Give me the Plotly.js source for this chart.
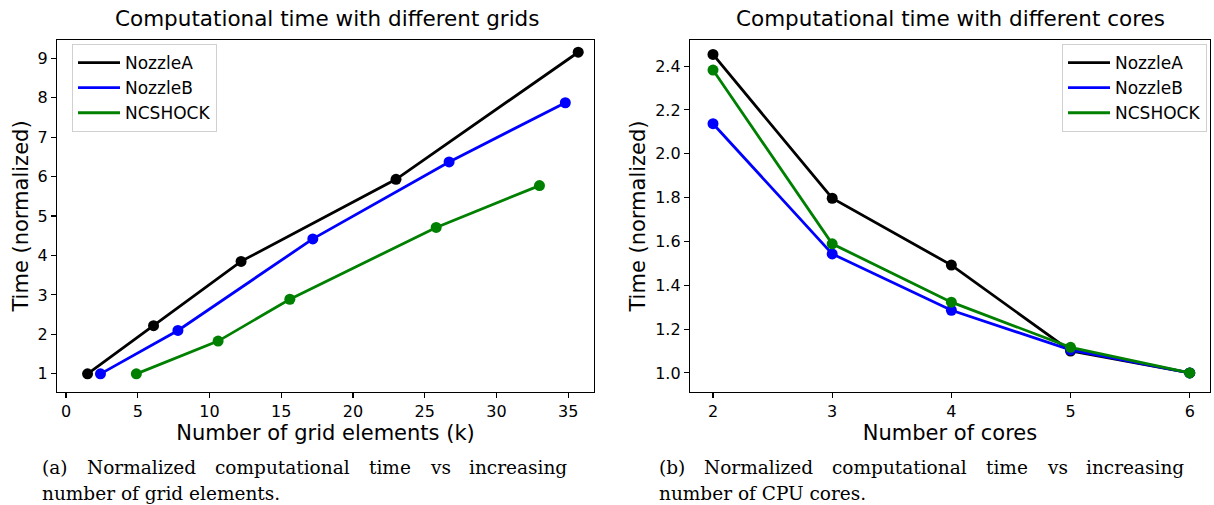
<!DOCTYPE html>
<html>
<head>
<meta charset="utf-8">
<script src="https://cdn.plot.ly/plotly-3.0.1.min.js"></script>
<style>html,body{margin:0;padding:0;background:#fff;}#chart{width:1214px;height:505px;}</style>
</head>
<body>
<div id="chart"></div>
<script>
// Left panel: grid elements (k) vs normalized time
const seriesNames = ["NozzleA", "NozzleB", "NCSHOCK"];
const seriesColors = ["#000000", "#0000ff", "#008000"];
const gridA_x = [1.5, 6.1, 12.2, 23.0, 35.7];
const gridA_y = [1.0, 2.22, 3.85, 5.93, 9.15];
const gridB_x = [2.4, 7.8, 17.2, 26.7, 34.8];
const gridB_y = [1.0, 2.10, 4.42, 6.37, 7.87];
const gridC_x = [4.9, 10.6, 15.6, 25.8, 33.0];
const gridC_y = [1.0, 1.83, 2.89, 4.71, 5.77];
// Right panel: number of cores vs normalized time
const cores = [2, 3, 4, 5, 6];
const coreA_y = [2.453, 1.797, 1.492, 1.100, 1.0];
const coreB_y = [2.137, 1.543, 1.286, 1.105, 1.0];
const coreC_y = [2.382, 1.589, 1.323, 1.117, 1.0];

const leftTitle = "Computational time with different grids";
const rightTitle = "Computational time with different cores";
const captionA1 = ["(a)", "Normalized", "computational", "time", "vs", "increasing"];
const captionA2 = "number of grid elements.";
const captionB1 = ["(b)", "Normalized", "computational", "time", "vs", "increasing"];
const captionB2 = "number of CPU cores.";

const font = "DejaVu Sans, sans-serif";
const serif = "DejaVu Serif, serif";
const capSize = 18.5;
const gridX = [gridA_x, gridB_x, gridC_x];
const gridY = [gridA_y, gridB_y, gridC_y];
const coreY = [coreA_y, coreB_y, coreC_y];

const traces = [];
for (let i = 0; i < 3; i++) {
  traces.push({x: gridX[i], y: gridY[i], mode: "lines", name: seriesNames[i], line: {color: seriesColors[i], width: 2.8}, xaxis: "x", yaxis: "y", legend: "legend"});
  traces.push({x: gridX[i], y: gridY[i], mode: "markers", showlegend: false, marker: {color: seriesColors[i], size: 11}, xaxis: "x", yaxis: "y", hoverinfo: "skip"});
}
for (let i = 0; i < 3; i++) {
  traces.push({x: cores, y: coreY[i], mode: "lines", name: seriesNames[i], line: {color: seriesColors[i], width: 2.8}, xaxis: "x2", yaxis: "y2", legend: "legend2"});
  traces.push({x: cores, y: coreY[i], mode: "markers", showlegend: false, marker: {color: seriesColors[i], size: 11}, xaxis: "x2", yaxis: "y2", hoverinfo: "skip"});
}

const axBase = {
  showline: true, mirror: true, linecolor: "#000", linewidth: 1.2,
  ticks: "outside", ticklen: 5, tickwidth: 1.1, tickcolor: "#000",
  showgrid: false, zeroline: false,
  tickfont: {family: font, size: 16, color: "#000"}
};
const yDom = [1 - 392/505, 1 - 40/505];

const legendBase = {
  bgcolor: "rgba(255,255,255,0.9)", bordercolor: "#d0d0d0", borderwidth: 1,
  font: {family: font, size: 17, color: "#000"}, tracegroupgap: 0, itemwidth: 42
};

const P = (px) => px / 1214;
const Q = (py) => 1 - py / 505;

const anns = [
  {text: leftTitle, xref: "paper", yref: "paper", x: P(327), y: Q(18), xanchor: "center", yanchor: "middle", showarrow: false, font: {family: font, size: 21.5, color: "#000"}},
  {text: rightTitle, xref: "paper", yref: "paper", x: P(950), y: Q(18), xanchor: "center", yanchor: "middle", showarrow: false, font: {family: font, size: 21.5, color: "#000"}}
];
// justified first caption line: evenly distribute gaps between left and right edge
const ctx = document.createElement("canvas").getContext("2d");
ctx.font = capSize + "px 'DejaVu Serif'";
function addCaption(words, line2, left, right) {
  const widths = words.map(w => ctx.measureText(w).width);
  const total = widths.reduce((a, b) => a + b, 0);
  const gap = (right - left - total) / (words.length - 1);
  let xpos = left;
  for (let i = 0; i < words.length; i++) {
    anns.push({text: words[i], xref: "paper", yref: "paper", x: P(xpos), y: Q(467),
      xanchor: "left", yanchor: "middle", showarrow: false, font: {family: serif, size: capSize, color: "#000"}});
    xpos += widths[i] + gap;
  }
  anns.push({text: line2, xref: "paper", yref: "paper", x: P(left), y: Q(493), xanchor: "left", yanchor: "middle", showarrow: false, font: {family: serif, size: capSize, color: "#000"}});
}

function draw() {
  addCaption(captionA1, captionA2, 40, 565);
  addCaption(captionB1, captionB2, 657, 1182);
  const layout = {
    width: 1214, height: 505,
    margin: {l: 0, r: 0, t: 0, b: 0},
    paper_bgcolor: "#fff", plot_bgcolor: "#fff",
    showlegend: true,
    xaxis: Object.assign({}, axBase, {domain: [P(57), P(594)], range: [-0.63, 36.8], tickvals: [0,5,10,15,20,25,30,35], anchor: "y",
      title: {text: "Number of grid elements (k)", font: {family: font, size: 21, color: "#000"}, standoff: 4}}),
    yaxis: Object.assign({}, axBase, {domain: yDom, range: [0.54, 9.46], tickvals: [1,2,3,4,5,6,7,8,9], anchor: "x",
      title: {text: "Time (normalized)", font: {family: font, size: 21, color: "#000"}, standoff: 3}}),
    xaxis2: Object.assign({}, axBase, {domain: [P(690), P(1210)], range: [1.807, 6.17], tickvals: cores, anchor: "y2",
      title: {text: "Number of cores", font: {family: font, size: 21, color: "#000"}, standoff: 4}}),
    yaxis2: Object.assign({}, axBase, {domain: yDom, range: [0.913, 2.519], tickvals: [1.0,1.2,1.4,1.6,1.8,2.0,2.2,2.4], tickformat: ".1f", anchor: "x2",
      title: {text: "Time (normalized)", font: {family: font, size: 21, color: "#000"}, standoff: 3}}),
    legend: Object.assign({}, legendBase, {x: P(72), y: Q(44), xanchor: "left", yanchor: "top"}),
    legend2: Object.assign({}, legendBase, {x: P(1207), y: Q(44), xanchor: "right", yanchor: "top"}),
    annotations: anns
  };
  Plotly.newPlot("chart", traces, layout, {displayModeBar: false, staticPlot: true});
}
if (document.fonts && document.fonts.load) {
  document.fonts.load(capSize + "px 'DejaVu Serif'").then(draw, draw);
} else { draw(); }
</script>
</body>
</html>
